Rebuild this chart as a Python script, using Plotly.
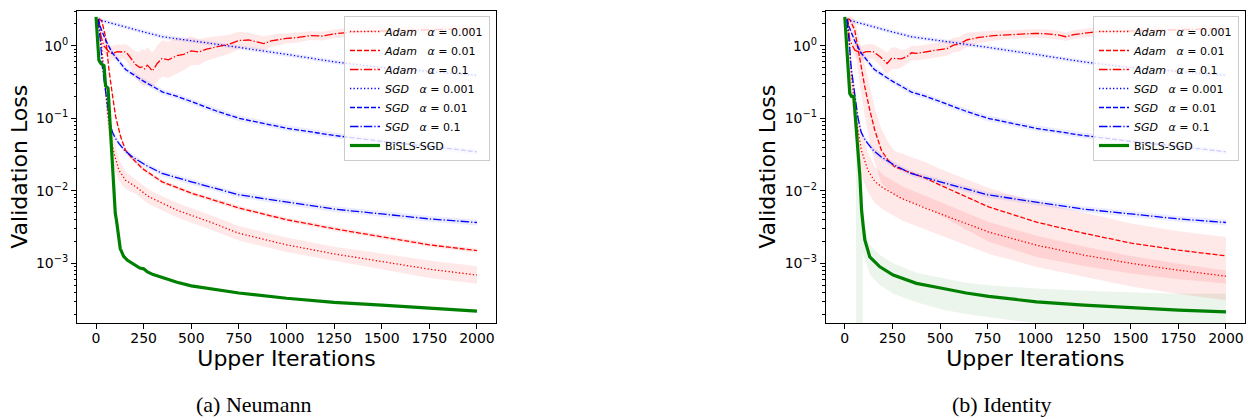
import plotly.graph_objects as go

# ---------------- data ----------------
x_ticks = [0, 250, 500, 750, 1000, 1250, 1500, 1750, 2000]
y_ticks = [1e-3, 1e-2, 1e-1, 1]
y_tick_text = ["10<sup>\u22123</sup>", "10<sup>\u22122</sup>", "10<sup>\u22121</sup>", "10<sup>0</sup>"]

# SGD with fixed step sizes (same in both panels)
sgd_0001_it = [10, 100, 250, 350, 500, 750, 1000, 1250, 1500, 1750, 2000]
sgd_0001 = [2.3, 1.97, 1.55, 1.33, 1.18, 0.95, 0.76, 0.6, 0.5, 0.44, 0.39]
sgd_0001_sd = 0.03

sgd_001_it = [10, 25, 50, 85, 155, 245, 350, 426, 500, 636, 750, 1000, 1250, 1500, 1750, 2000]
sgd_001 = [2.3, 1.75, 1.2, 0.8, 0.47, 0.33, 0.23, 0.2, 0.17, 0.125, 0.1, 0.073, 0.058, 0.048, 0.041, 0.0345]
sgd_001_sd = 0.04

sgd_01_it = [10, 24, 33, 50, 68, 85, 100, 120, 150, 190, 260, 347, 500, 750, 1000, 1250, 1500, 1750, 2000]
sgd_01 = [2.3, 1.08, 0.51, 0.22, 0.105, 0.065, 0.054, 0.045, 0.036, 0.0295, 0.0226, 0.0174, 0.0133,
          0.0088, 0.007, 0.0056, 0.0048, 0.0041, 0.00366]
sgd_01_sd = 0.04

# Neumann panel
neu_adam_0001_it = [15, 30, 45, 60, 75, 94, 120, 155, 208, 277, 347, 426, 600, 750, 1000, 1250, 1500, 1750, 2000]
neu_adam_0001 = [2.35, 1.0, 0.35, 0.12, 0.06, 0.033, 0.0193, 0.014, 0.0114, 0.0083, 0.0067, 0.0054, 0.0037,
                 0.0026, 0.0018, 0.00135, 0.00106, 0.00083, 0.00069]
neu_adam_0001_sd = [0.05, 0.1, 0.15, 0.2, 0.2, 0.2, 0.15, 0.12, 0.1, 0.1, 0.1, 0.1, 0.1, 0.1, 0.1, 0.1,
                    0.11, 0.12, 0.12]

neu_adam_001_it = [15, 30, 50, 68, 85, 103, 129, 155, 190, 243, 347, 500, 750, 1000, 1250, 1500, 1750, 2000]
neu_adam_001 = [2.35, 2.2, 1.33, 0.46, 0.22, 0.105, 0.056, 0.036, 0.028, 0.0203, 0.0133, 0.0093, 0.0058,
                0.004, 0.003, 0.0023, 0.0018, 0.0015]
neu_adam_001_sd = 0.03

neu_adam_01_it = [15, 25, 40, 55, 77, 95, 112, 130, 146, 164, 185, 208, 230, 243, 255, 269, 282, 295, 308, 321,
                  347, 380, 424, 460, 500, 540, 580, 618, 660, 700, 750, 800, 850, 881, 920, 960, 1000, 1060,
                  1125, 1190, 1250, 1300, 1350, 1420, 1500, 1600, 1700, 1800, 1900, 2000]
neu_adam_01 = [2.35, 1.4, 1.0, 0.9, 0.78, 0.8, 0.83, 0.82, 0.84, 0.78, 0.66, 0.55, 0.5, 0.51, 0.48, 0.54, 0.5,
               0.45, 0.5, 0.57, 0.67, 0.64, 0.73, 0.76, 0.85, 0.82, 0.9, 0.95, 1.0, 1.05, 1.18, 1.2, 1.12, 1.07,
               1.17, 1.22, 1.26, 1.3, 1.38, 1.36, 1.46, 1.5, 1.55, 1.58, 1.6, 1.62, 1.65, 1.66, 1.7, 1.72]
neu_adam_01_sd = [0.05, 0.08, 0.1, 0.1, 0.1, 0.1, 0.1, 0.1, 0.1, 0.12, 0.15, 0.18, 0.22, 0.25, 0.25, 0.25,
                  0.25, 0.25, 0.25, 0.25, 0.25, 0.25, 0.25, 0.22, 0.2, 0.18, 0.16, 0.15, 0.14, 0.13, 0.12, 0.1,
                  0.1, 0.1, 0.08, 0.08, 0.07, 0.07, 0.06, 0.06, 0.06, 0.06, 0.06, 0.06, 0.06, 0.06, 0.06, 0.06,
                  0.06, 0.06]

bisls_neu_it = [0, 15, 25, 42, 50, 63, 101, 108, 127, 145, 165, 200, 230, 250, 270, 300, 425, 500, 635, 750,
                1000, 1250, 1500, 1750, 2000]
bisls_neu = [2.5, 0.63, 0.57, 0.53, 0.28, 0.26, 0.0049, 0.0038, 0.0016, 0.00125, 0.0011, 0.00095, 0.00086,
             0.00084, 0.00076, 0.0007, 0.00055, 0.00049, 0.00043, 0.00039, 0.00033, 0.00029, 0.000265,
             0.00024, 0.00022]

# Identity panel
id_adam_0001_it = [15, 35, 61, 87, 122, 157, 200, 300, 428, 637, 755, 1006, 1254, 1503, 1751, 2000]
id_adam_0001 = [2.35, 0.37, 0.094, 0.036, 0.019, 0.0135, 0.011, 0.0078, 0.0057, 0.00355, 0.0027, 0.00178,
                0.0013, 0.001, 0.000805, 0.000665]
id_adam_0001_up = [0.05, 0.2, 0.25, 0.3, 0.25, 0.2, 0.18, 0.17, 0.17, 0.15, 0.14, 0.13, 0.12, 0.1, 0.09, 0.08]
id_adam_0001_dn = [0.05, 0.3, 0.35, 0.35, 0.3, 0.3, 0.3, 0.3, 0.3, 0.3, 0.3, 0.3, 0.3, 0.32, 0.33, 0.33]

id_adam_001_it = [15, 26, 52, 79, 105, 131, 157, 192, 227, 262, 350, 428, 500, 620, 755, 1006, 1254, 1503,
                  1751, 2000]
id_adam_001 = [2.35, 2.3, 1.65, 0.635, 0.27, 0.13, 0.069, 0.036, 0.0265, 0.0214, 0.0174, 0.0148, 0.012, 0.0087,
               0.006, 0.0037, 0.0026, 0.0019, 0.00152, 0.00127]
id_adam_001_up = [0.05, 0.05, 0.15, 0.25, 0.3, 0.3, 0.3, 0.3, 0.25, 0.22, 0.22, 0.22, 0.22, 0.24, 0.26, 0.28,
                  0.28, 0.27, 0.26, 0.26]
id_adam_001_dn = [0.05, 0.05, 0.2, 0.35, 0.4, 0.45, 0.45, 0.45, 0.4, 0.4, 0.4, 0.4, 0.42, 0.45, 0.48, 0.48,
                  0.45, 0.42, 0.4, 0.38]

id_adam_01_it = [15, 26, 52, 87, 113, 149, 184, 210, 222, 245, 271, 297, 330, 350, 376, 397, 440, 481, 501, 540,
                 570, 600, 640, 703, 781, 850, 920, 1000, 1060, 1125, 1160, 1200, 1250, 1320, 1400, 1500, 1600,
                 1700, 1800, 1900, 2000]
id_adam_01 = [2.35, 1.2, 0.87, 0.785, 0.83, 0.83, 0.71, 0.6, 0.57, 0.67, 0.67, 0.66, 0.72, 0.8, 0.785, 0.8,
              0.84, 0.87, 0.89, 0.92, 1.02, 1.05, 1.2, 1.3, 1.38, 1.42, 1.45, 1.48, 1.46, 1.4, 1.33, 1.42, 1.48,
              1.56, 1.58, 1.6, 1.62, 1.65, 1.68, 1.7, 1.72]
id_adam_01_sd = [0.05, 0.08, 0.1, 0.1, 0.1, 0.1, 0.12, 0.15, 0.15, 0.15, 0.15, 0.12, 0.1, 0.1, 0.1, 0.1, 0.1,
                 0.1, 0.1, 0.1, 0.1, 0.1, 0.1, 0.08, 0.07, 0.06, 0.06, 0.06, 0.06, 0.06, 0.06, 0.06, 0.06, 0.06,
                 0.05, 0.05, 0.05, 0.05, 0.05, 0.05, 0.05]

bisls_id_it = [0, 26, 35, 47, 79, 88, 97, 105, 131, 184, 254, 376, 516, 637, 755, 1006, 1254, 1503, 1751, 2000]
bisls_id = [2.5, 0.22, 0.2, 0.2, 0.016, 0.0054, 0.0032, 0.0021, 0.00123, 0.000895, 0.00069, 0.00053, 0.00045,
            0.00039, 0.00035, 0.000295, 0.000265, 0.000243, 0.000226, 0.000214]
bisls_id_band_it = [0, 26, 47, 58, 62, 90, 95, 105, 131, 184, 254, 376, 516, 637, 755, 1006, 1254, 1503, 1751,
                    2000]
bisls_id_hi = [2.55, 0.24, 0.23, 0.2, 0.2, 0.012, 0.006, 0.0032, 0.0018, 0.0013, 0.001, 0.00074, 0.00062,
               0.00054, 0.0005, 0.00045, 0.00042, 0.0004, 0.00038, 0.00038]
bisls_id_lo = [2.45, 0.2, 0.17, 0.12, 1e-9, 1e-9, 0.0014, 0.0011, 0.0007, 0.0005, 0.00038, 0.00029, 0.00023,
               0.0002, 0.00018, 0.00015, 0.00012, 9e-05, 7e-05, 5e-05]

# ---------------- styling ----------------
RED, BLUE, GREEN = "#ff0000", "#0000ff", "#008000"
RED_BAND, BLUE_BAND, GREEN_BAND = "rgba(255,0,0,0.09)", "rgba(0,0,255,0.08)", "rgba(0,128,0,0.08)"
DOT, DASH, DASHDOT = "1.3px,2.2px", "5px,2px", "8.5px,2px,1.3px,2px"
FONT = "DejaVu Sans"
SP = "\u00a0\u00a0\u00a0"


def spread(s, n):
    return s if isinstance(s, list) else [s] * n


def band_polygon(it, val, up, dn):
    up, dn = spread(up, len(it)), spread(dn, len(it))
    hi = [v * 10 ** u for v, u in zip(val, up)]
    lo = [v / 10 ** d for v, d in zip(val, dn)]
    return list(it) + list(it[::-1]), hi + lo[::-1]


fig = go.Figure()


def add_band(xs, ys, color, xa, ya):
    fig.add_trace(go.Scatter(x=xs, y=ys, fill="toself", fillcolor=color, line=dict(width=0),
                             mode="lines", hoverinfo="skip", showlegend=False, xaxis=xa, yaxis=ya))


def add_line(it, val, name, color, dash, width, xa, ya, legend):
    fig.add_trace(go.Scatter(x=it, y=val, name=name, mode="lines",
                             line=dict(color=color, dash=dash, width=width),
                             xaxis=xa, yaxis=ya, legend=legend))


def adam_name(lr):
    return f"<i>Adam</i>{SP}<i>\u03b1</i> = {lr}"


def sgd_name(lr):
    return f"<i>SGD</i>{SP}<i>\u03b1</i> = {lr}"


panels = [
    dict(xa="x", ya="y", legend="legend",
         adam=[(neu_adam_0001_it, neu_adam_0001, neu_adam_0001_sd, neu_adam_0001_sd, "0.001", DOT),
               (neu_adam_001_it, neu_adam_001, neu_adam_001_sd, neu_adam_001_sd, "0.01", DASH),
               (neu_adam_01_it, neu_adam_01, neu_adam_01_sd, neu_adam_01_sd, "0.1", DASHDOT)],
         bisls=(bisls_neu_it, bisls_neu), bisls_band=None),
    dict(xa="x2", ya="y2", legend="legend2",
         adam=[(id_adam_0001_it, id_adam_0001, id_adam_0001_up, id_adam_0001_dn, "0.001", DOT),
               (id_adam_001_it, id_adam_001, id_adam_001_up, id_adam_001_dn, "0.01", DASH),
               (id_adam_01_it, id_adam_01, id_adam_01_sd, id_adam_01_sd, "0.1", DASHDOT)],
         bisls=(bisls_id_it, bisls_id),
         bisls_band=(bisls_id_band_it, bisls_id_hi, bisls_id_lo)),
]
sgd_runs = [(sgd_0001_it, sgd_0001, sgd_0001_sd, "0.001", DOT),
            (sgd_001_it, sgd_001, sgd_001_sd, "0.01", DASH),
            (sgd_01_it, sgd_01, sgd_01_sd, "0.1", DASHDOT)]

for p in panels:
    xa, ya, lg = p["xa"], p["ya"], p["legend"]
    # shaded spread first so the mean curves stay on top
    for it, val, up, dn, _, _ in p["adam"]:
        xs, ys = band_polygon(it, val, up, dn)
        add_band(xs, ys, RED_BAND, xa, ya)
    for it, val, sd, _, _ in sgd_runs:
        xs, ys = band_polygon(it, val, sd, sd)
        add_band(xs, ys, BLUE_BAND, xa, ya)
    if p["bisls_band"] is not None:
        bit, bhi, blo = p["bisls_band"]
        add_band(list(bit) + list(bit[::-1]), list(bhi) + list(blo[::-1]), GREEN_BAND, xa, ya)
    for it, val, _, _, lr, dash in p["adam"]:
        add_line(it, val, adam_name(lr), RED, dash, 1.3, xa, ya, lg)
    for it, val, _, lr, dash in sgd_runs:
        add_line(it, val, sgd_name(lr), BLUE, dash, 1.3, xa, ya, lg)
    add_line(p["bisls"][0], p["bisls"][1], "BiSLS-SGD", GREEN, "solid", 3.2, xa, ya, lg)

minor_vals = [k * 10.0 ** e for e in range(-4, 1) for k in range(2, 10)]

x_domains = [[0.0616, 0.3968], [0.6606, 0.996]]
y_domain = [0.2275, 0.9744]

common_x = dict(range=[-100, 2100], tickmode="array", tickvals=x_ticks, ticks="outside", ticklen=5,
                tickwidth=1, tickcolor="black", showline=True, linecolor="black", linewidth=1, mirror=True,
                showgrid=False, zeroline=False, tickfont=dict(family=FONT, size=14, color="black"),
                ticklabelstandoff=-3,
                title=dict(text="Upper Iterations", font=dict(family=FONT, size=22, color="black"), standoff=0),
                automargin=False)
common_y = dict(type="log", range=[-3.821, 0.483], tickmode="array", tickvals=y_ticks, ticktext=y_tick_text,
                ticks="outside", ticklen=5, tickwidth=1, tickcolor="black", showline=True, linecolor="black",
                linewidth=1, mirror=True, showgrid=False, zeroline=False,
                tickfont=dict(family=FONT, size=14, color="black"),
                minor=dict(tickmode="array", tickvals=minor_vals, ticks="outside", ticklen=2.5,
                           tickwidth=0.8, tickcolor="black", showgrid=False),
                title=dict(text="Validation Loss", font=dict(family=FONT, size=22, color="black"), standoff=2),
                automargin=False)

legend_style = dict(xanchor="right", yanchor="top", y=0.9617, bgcolor="rgba(255,255,255,0.8)",
                    bordercolor="#cccccc", borderwidth=1, font=dict(family=FONT, size=11, color="black"),
                    traceorder="normal", itemwidth=30)

fig.update_layout(
    width=1250, height=418, autosize=False,
    margin=dict(l=0, r=0, t=0, b=0),
    paper_bgcolor="white", plot_bgcolor="white",
    font=dict(family=FONT, color="black"),
    xaxis=dict(domain=x_domains[0], anchor="y", **common_x),
    yaxis=dict(domain=y_domain, anchor="x", **common_y),
    xaxis2=dict(domain=x_domains[1], anchor="y2", **common_x),
    yaxis2=dict(domain=y_domain, anchor="x2", **common_y),
    legend=dict(x=0.392, **legend_style),
    legend2=dict(x=0.9912, **legend_style),
    annotations=[
        dict(text="(a) Neumann", x=0.2024, y=0.033, xref="paper", yref="paper", showarrow=False,
             xanchor="center", yanchor="middle", font=dict(family="Liberation Serif", size=22, color="black")),
        dict(text="(b) Identity", x=0.8014, y=0.033, xref="paper", yref="paper", showarrow=False,
             xanchor="center", yanchor="middle", font=dict(family="Liberation Serif", size=22, color="black")),
    ],
)

fig.write_html("out.html")
